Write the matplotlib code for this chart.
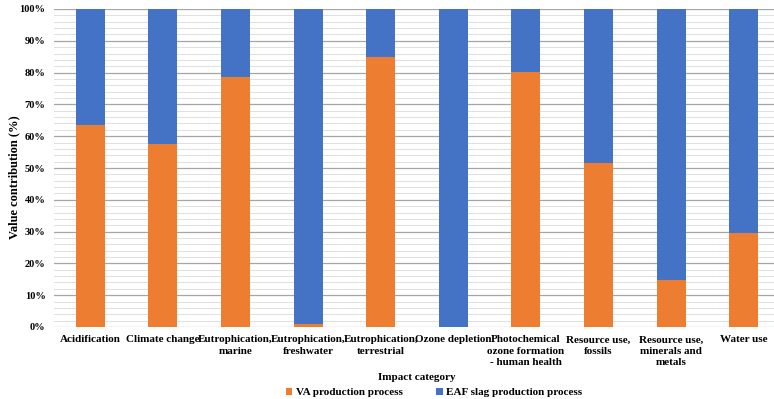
import matplotlib
matplotlib.use("Agg")
import matplotlib.pyplot as plt
import numpy as np
from matplotlib.ticker import MultipleLocator, PercentFormatter

categories = ["Acidification", "Climate change", "Eutrophication,\nmarine",
              "Eutrophication,\nfreshwater", "Eutrophication,\nterrestrial",
              "Ozone depletion", "Photochemical\nozone formation\n- human health",
              "Resource use,\nfossils", "Resource use,\nminerals and\nmetals", "Water use"]
va_values = [63.4, 57.4, 78.6, 0.9, 84.9, 0.0, 80.2, 51.6, 14.8, 29.6]
eaf_values = [100 - v for v in va_values]
series_names = ["VA production process", "EAF slag production process"]

plt.rcParams['font.family'] = ['Liberation Serif', 'DejaVu Serif']
plt.rcParams['font.weight'] = 'bold'

fig = plt.figure(figsize=(7.74, 3.99), dpi=100)
ax = fig.add_axes([54/774, (399-327)/399, 726/774, (327-9)/399])

x = np.arange(len(categories))
w = 0.4
b1 = ax.bar(x, va_values, w, color="#ED7D31", label=series_names[0], zorder=3)
b2 = ax.bar(x, eaf_values, w, bottom=va_values, color="#4472C4", label=series_names[1], zorder=3)

ax.set_xlim(-0.5, len(categories) - 0.5)
ax.set_ylim(0, 100)
ax.yaxis.set_major_locator(MultipleLocator(10))
ax.yaxis.set_minor_locator(MultipleLocator(2))
ax.yaxis.set_major_formatter(PercentFormatter(decimals=0))
ax.grid(axis='y', which='major', color='#a6a6a6', linewidth=0.9, zorder=0)
ax.grid(axis='y', which='minor', color='#e0e0e0', linewidth=0.7, zorder=0)
ax.set_axisbelow(True)
for s in ax.spines.values():
    s.set_visible(False)
ax.tick_params(axis='both', which='both', length=0)
ax.tick_params(axis='y', labelsize=7.5, pad=6)
ax.set_xticks(x)
ax.set_xticklabels(categories, fontsize=8, fontweight='bold', linespacing=1.35)
ax.tick_params(axis='x', pad=6)
for lbl in ax.get_yticklabels():
    lbl.set_fontweight('bold')

ax.set_ylabel("Value contribution (%)", fontsize=9, fontweight='bold')
ax.yaxis.set_label_coords((20 - 54) / 726, 0.47)
ax.set_xlabel("Impact category", fontsize=8, fontweight='bold', labelpad=4)

fig.legend(handles=[b1, b2], labels=series_names, loc='lower center',
           bbox_to_anchor=(434/774, -0.02), ncol=2, frameon=False,
           prop={'size': 8, 'weight': 'bold'}, handlelength=0.6, handleheight=0.6,
           handletextpad=0.3, columnspacing=3.0)

fig.savefig("out.png", dpi=100)
